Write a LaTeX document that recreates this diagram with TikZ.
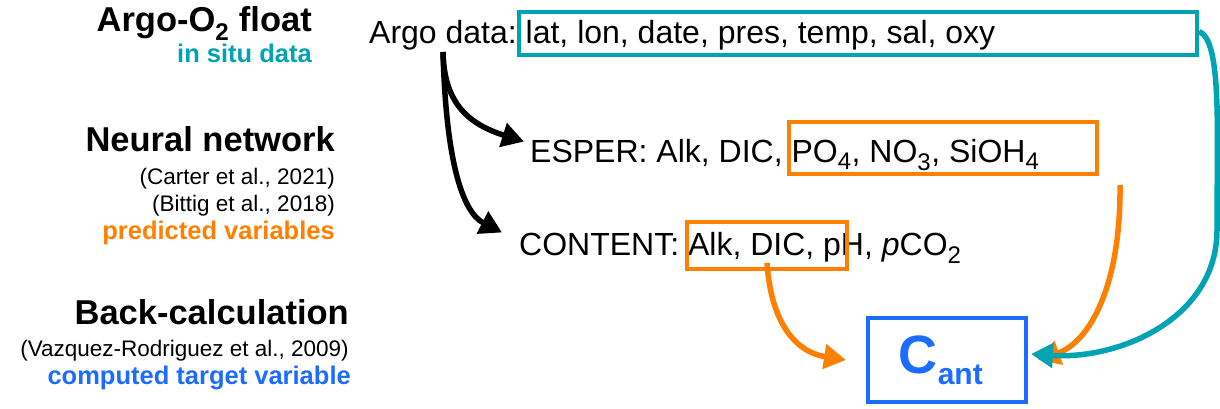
\documentclass[tikz,border=0pt]{standalone}
\usepackage{fontspec}
\setmainfont{Liberation Sans}
\usepackage{tikz}
\usetikzlibrary{arrows.meta,positioning}

\definecolor{argoteal}{RGB}{0,163,178}
\definecolor{nnorange}{RGB}{255,128,0}
\definecolor{cantblue}{RGB}{28,108,255}

\newcommand{\fs}[1]{\fontsize{#1}{#1}\selectfont}

\begin{document}
\begin{tikzpicture}[x=1pt,y=-1pt]
  \tikzstyle{head}=[anchor=base east,inner sep=0pt,font=\fs{34.5}\bfseries]
  \tikzstyle{cite}=[anchor=base east,inner sep=0pt,font=\fs{22.5}]
  \tikzstyle{role}=[anchor=base east,inner sep=0pt,font=\fs{25.5}\bfseries]
  \tikzstyle{data}=[anchor=base west,inner sep=0pt,font=\fs{32}]
  \tikzstyle{vbox}=[draw,line width=4pt,inner sep=0pt]
  \tikzstyle{flow}=[line width=5.5pt,-{Triangle[length=22pt,width=24pt]}]

  \useasboundingbox (0,0) rectangle (1220,409);

  % left column
  \node[head] (argohd) at (312,32) {Argo-O\textsubscript{2} float};
  \node[role,argoteal] (argorl) at (312,63) {in situ data};
  \node[head] (nnhd) at (335,151) {Neural network};
  \node[cite] (carter) at (335,184) {(Carter et al., 2021)};
  \node[cite] (bittig) at (335,211) {(Bittig et al., 2018)};
  \node[role,nnorange] (nnrl) at (335,239) {predicted variables};
  \node[head] (bchd) at (349,324) {Back-calculation};
  \node[cite] (vazquez) at (349,356) {(Vazquez-Rodriguez et al., 2009)};
  \node[role,cantblue] (bcrl) at (351,384) {computed target variable};

  % right column
  \node[data] (argo) at (369,44) {Argo data:\kern-3pt{} lat, lon, date, pres, temp, sal, oxy};
  \node[data] (esper) at (530,162) {ESPER: Alk, DIC, PO\textsubscript{\fs{24}4}, NO\textsubscript{\fs{24}3}, SiOH\textsubscript{\fs{24}4}};
  \node[data] (content) at (519,255) {CONTENT: Alk, DIC, pH, \textit{p}CO\textsubscript{\fs{24}2}};

  \node[vbox,argoteal,minimum width=678,minimum height=43] (argobox) at (858,33.5) {};
  \node[vbox,nnorange,minimum width=308,minimum height=52] (esperbox) at (943,148) {};
  \node[vbox,nnorange,minimum width=160,minimum height=47] (contbox) at (767,245.5) {};
  \node[vbox,cantblue,minimum width=158,minimum height=84,font=\fs{54}\bfseries]
    (cant) at (947,360) {C\textsubscript{\fs{30}ant}\kern12pt};

  \coordinate (fork) at (443,52);
  \coordinate (espout) at (1120,185);

  \draw[flow] (fork) .. controls (444,100) and (465,123) .. ([shift={(-6,-13)}]esper.west);
  \draw[flow] (fork) .. controls (446,160) and (462,212) .. ([shift={(-17,-15)}]content.west);
  \draw[flow,nnorange] ([yshift=8]contbox.south) .. controls (771,322) and (795,352) .. ([xshift=-20]cant.west);
  \draw[flow,nnorange] (espout) .. controls (1121,285) and (1090,342) .. ([xshift=10]cant.east);
  \draw[flow,argoteal] ([yshift=2]argobox.east) .. controls (1222,40) and (1217,130) .. (1217,230)
    .. controls (1217,318) and (1120,360) .. ([xshift=3,yshift=6]cant.east);
\end{tikzpicture}
\end{document}
